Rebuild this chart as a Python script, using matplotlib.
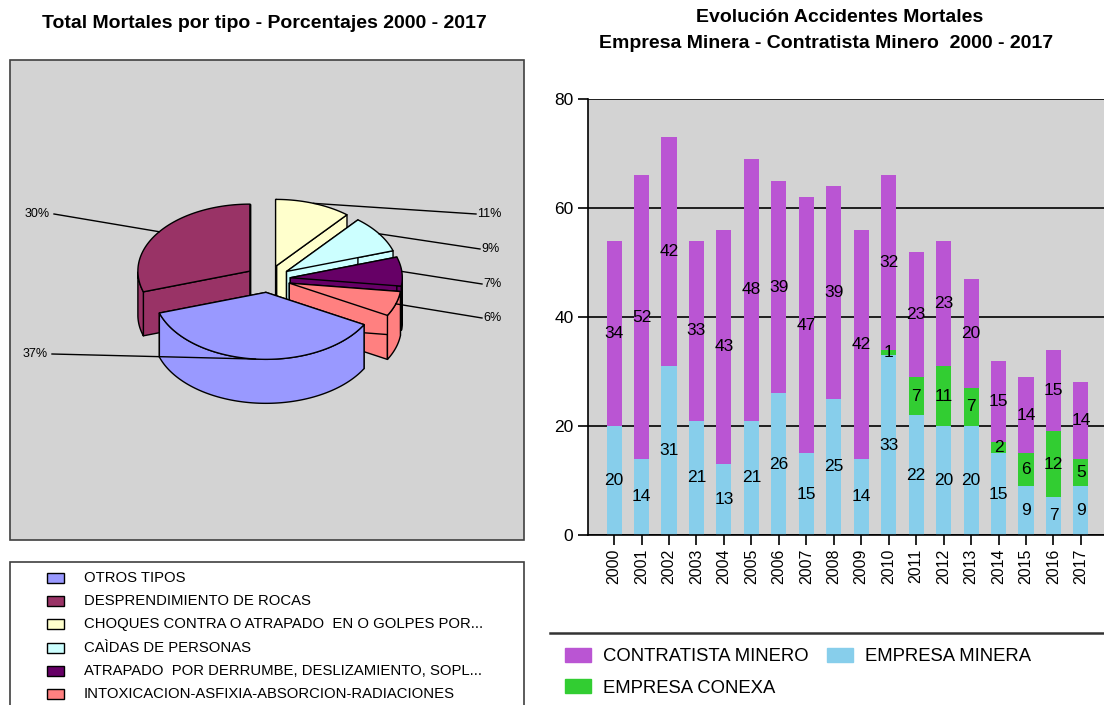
import matplotlib
matplotlib.use("Agg")
import matplotlib.pyplot as plt
import numpy as np
from matplotlib.lines import Line2D
from matplotlib.patches import Polygon, Rectangle

plt.rcParams["font.family"] = ["Liberation Sans", "DejaVu Sans"]

# ---- data: pie (percent of fatal accidents by type, 2000-2017)
tipos = [
    "OTROS TIPOS",
    "DESPRENDIMIENTO DE ROCAS",
    "CHOQUES CONTRA O ATRAPADO  EN O GOLPES POR...",
    "CAÌDAS DE PERSONAS",
    "ATRAPADO  POR DERRUMBE, DESLIZAMIENTO, SOPL...",
    "INTOXICACION-ASFIXIA-ABSORCION-RADIACIONES",
]
porcentajes = [37, 30, 11, 9, 7, 6]
colores_pie = ["#9999FF", "#993366", "#FFFFCC", "#CCFFFF", "#660066", "#FF8080"]

# ---- data: stacked bars (fatal accidents per year)
anios = ["2000", "2001", "2002", "2003", "2004", "2005", "2006", "2007", "2008",
         "2009", "2010", "2011", "2012", "2013", "2014", "2015", "2016", "2017"]
empresa_minera = [20, 14, 31, 21, 13, 21, 26, 15, 25, 14, 33, 22, 20, 20, 15, 9, 7, 9]
empresa_conexa = [0, 0, 0, 0, 0, 0, 0, 0, 0, 0, 1, 7, 11, 7, 2, 6, 12, 5]
contratista_minero = [34, 52, 42, 33, 43, 48, 39, 47, 39, 42, 32, 23, 23, 20, 15, 14, 15, 14]

W, H = 1104, 705
fig = plt.figure(figsize=(W / 100, H / 100), dpi=100)

# ================= left panel, drawn in pixel coordinates =================
axl = fig.add_axes([0, 0, 552 / W, 1])
axl.set_xlim(0, 552)
axl.set_ylim(H, 0)
axl.axis("off")

axl.text(264, 23, "Total Mortales por tipo - Porcentajes 2000 - 2017",
         ha="center", va="center", fontsize=14, fontweight="bold")
axl.add_patch(Rectangle((10, 60), 514, 480, facecolor="#D3D3D3",
                        edgecolor="#404040", lw=1.2))
axl.add_patch(Rectangle((10, 562), 514, 160, facecolor="white",
                        edgecolor="#404040", lw=1.2))

# pseudo 3D exploded pie
cx, cy, rx, ry, depth, explode = 268, 279, 112, 67, 44, 0.2
start = 331.2
total = sum(porcentajes)
slices = []
end = start
for pct, color in zip(porcentajes, colores_pie):
    ta = end - pct / total * 360
    mid = np.radians((ta + end) / 2)
    apx = cx + explode * rx * np.cos(mid)
    apy = cy - explode * ry * np.sin(mid)
    slices.append((ta, end, apx, apy, color))
    end = ta


def rim(apx, apy, t_deg):
    t = np.radians(t_deg)
    return apx + rx * np.cos(t), apy - ry * np.sin(t)


edge = dict(edgecolor="black", lw=1.0, joinstyle="round")
for ta, tb, apx, apy, color in sorted(slices, key=lambda s: s[3]):
    # radial cut faces
    for t in (ta, tb):
        px, py = rim(apx, apy, t)
        axl.add_patch(Polygon([(apx, apy), (px, py), (px, py + depth),
                               (apx, apy + depth)], facecolor=color, **edge))
    ts = np.linspace(ta, tb, 120)
    front = ts[np.sin(np.radians(ts)) <= 0]
    if len(front) > 1:
        xs, ys = rim(apx, apy, front)
        pts = list(zip(xs, ys)) + list(zip(xs[::-1], ys[::-1] + depth))
        axl.add_patch(Polygon(pts, facecolor=color, **edge))
    xs, ys = rim(apx, apy, ts)
    axl.add_patch(Polygon([(apx, apy)] + list(zip(xs, ys)),
                          facecolor=color, **edge))

# percentage labels with leader lines
label_pos = [(48, 354, "left"), (50, 214, "left"), (476, 214, "right"),
             (480, 249, "right"), (482, 284, "right"), (482, 318, "right")]
for (ta, tb, apx, apy, _), pct, (lx, ly, side) in zip(slices, porcentajes, label_pos):
    mx, my = rim(apx, apy, (ta + tb) / 2)
    if side == "left":
        axl.plot([lx + 4, mx], [ly, my], color="black", lw=1)
        axl.text(lx, ly, f"{pct}%", ha="right", va="center", fontsize=9)
    else:
        axl.plot([mx, lx], [my, ly], color="black", lw=1)
        axl.text(lx + 1, ly, f"{pct}%", ha="left", va="center", fontsize=9)

# pie legend
for i, (name, color) in enumerate(zip(tipos, colores_pie)):
    y = 578 + i * 23.2
    axl.add_patch(Rectangle((47, y - 5), 17, 10, facecolor=color,
                            edgecolor="black", lw=1))
    axl.text(84, y, name, ha="left", va="center", fontsize=10.7)

# ================= right panel: stacked bars =================
ax = fig.add_axes([588 / W, 170 / H, 516 / W, 436 / H])
x = np.arange(len(anios))
width = 0.55
base2 = np.array(empresa_minera)
base3 = base2 + np.array(empresa_conexa)
b_min = ax.bar(x, empresa_minera, width, color="#87CEEB", zorder=2)
b_con = ax.bar(x, empresa_conexa, width, bottom=base2, color="#32CD32", zorder=2)
b_con_m = ax.bar(x, contratista_minero, width, bottom=base3, color="#BA55D3", zorder=2)
for bars, vals in ((b_min, empresa_minera), (b_con, empresa_conexa),
                   (b_con_m, contratista_minero)):
    ax.bar_label(bars, labels=[str(v) if v else "" for v in vals],
                 label_type="center", fontsize=12.5)

ax.set_facecolor("#D3D3D3")
ax.set_xlim(-0.95, 17.84)
ax.set_ylim(0, 80)
ax.set_yticks([0, 20, 40, 60, 80])
ax.yaxis.grid(True, color="black", lw=1.2, zorder=0)
ax.set_axisbelow(True)
ax.set_xticks(x)
ax.set_xticklabels(anios, rotation=90, fontsize=11.5)
ax.tick_params(axis="y", labelsize=12.5, length=7, width=1.2)
ax.tick_params(axis="x", length=7, width=1.2, pad=3)
for s in ("top", "right"):
    ax.spines[s].set_visible(False)
for s in ("left", "bottom"):
    ax.spines[s].set_color("black")
    ax.spines[s].set_linewidth(1.2)

fig.text(840 / W, 1 - 18 / H, "Evolución Accidentes Mortales",
         ha="center", va="center", fontsize=14, fontweight="bold")
fig.text(826 / W, 1 - 44 / H, "Empresa Minera - Contratista Minero  2000 - 2017",
         ha="center", va="center", fontsize=14, fontweight="bold")

fig.add_artist(Line2D([550 / W, 1], [1 - 633 / H] * 2, color="#333333", lw=1.8))
handles = [Rectangle((0, 0), 1, 1, color="#BA55D3"),
           Rectangle((0, 0), 1, 1, color="#32CD32"),
           Rectangle((0, 0), 1, 1, color="#87CEEB")]
fig.legend(handles, ["CONTRATISTA MINERO", "EMPRESA CONEXA", "EMPRESA MINERA"],
           loc="upper left", bbox_to_anchor=(565 / W, 1 - 648 / H), ncol=2,
           frameon=False, fontsize=13.3, borderpad=0, borderaxespad=0,
           handlelength=1.4, handleheight=0.8,
           columnspacing=1.0, labelspacing=0.75, handletextpad=0.65)

fig.savefig("out.png", dpi=100)
